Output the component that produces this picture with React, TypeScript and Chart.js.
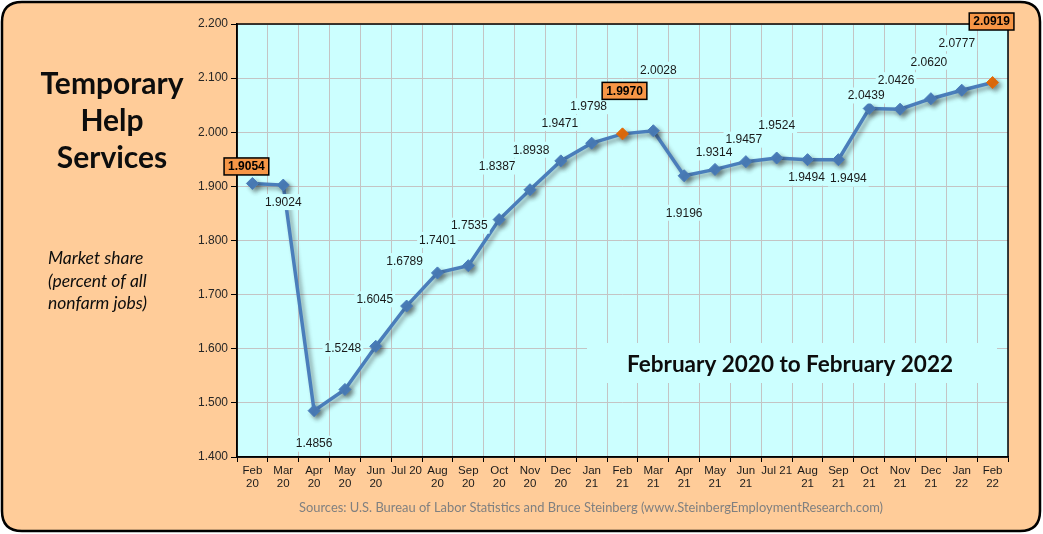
import { useEffect, useRef } from 'react';
import { Chart, registerables } from 'chart.js';

Chart.register(...registerables);

const categories: (string | string[])[] = [
  ['Feb', '20'], ['Mar', '20'], ['Apr', '20'], ['May', '20'], ['Jun', '20'], 'Jul 20',
  ['Aug', '20'], ['Sep', '20'], ['Oct', '20'], ['Nov', '20'], ['Dec', '20'], ['Jan', '21'],
  ['Feb', '21'], ['Mar', '21'], ['Apr', '21'], ['May', '21'], ['Jun', '21'], 'Jul 21',
  ['Aug', '21'], ['Sep', '21'], ['Oct', '21'], ['Nov', '21'], ['Dec', '21'], ['Jan', '22'],
  ['Feb', '22'],
];

const marketShare = [
  1.9054, 1.9024, 1.4856, 1.5248, 1.6045, 1.6789, 1.7401, 1.7535, 1.8387, 1.8938,
  1.9471, 1.9798, 1.9970, 2.0028, 1.9196, 1.9314, 1.9457, 1.9524, 1.9494, 1.9494,
  2.0439, 2.0426, 2.0620, 2.0777, 2.0919,
];

const boxedLabels = [0, 12, 24];
const orangePoints = [12, 24];

const yMin = 1.4;
const yMax = 2.2;
const yStep = 0.1;

const titleLines = ['Temporary', 'Help', 'Services'];
const noteLines = ['Market share', '(percent of all', 'nonfarm jobs)'];
const periodText = 'February 2020 to February 2022';
const sourceText =
  'Sources: U.S. Bureau of Labor Statistics and Bruce Steinberg (www.SteinbergEmploymentResearch.com)';

// label placement offsets (dx, dy) relative to each point
const labelOffsets: [number, number][] = [
  [-6, -17], [0, 17], [0, 33], [-2, -41], [-1, -47], [-2, -45], [0, -33], [1, -40],
  [-2, -53], [1, -40], [-1, -38], [-3, -37], [2, -43], [5, -61], [0, 37], [-1, -17],
  [-2, -22], [0, -33], [-1, 18], [10, 19], [-3, -13], [-4, -29], [-2, -37], [-5, -47],
  [-1, -61],
];

const W = 1043;
const H = 534;
const SANS = '"Liberation Sans", Arial, sans-serif';
const CAL = 'Lato, "Open Sans", sans-serif';
const LINE = '#4A7EBB';
const ORANGE = '#E46C0A';
const PLOT_BG = '#CCFFFF';
const GRID = '#C4C4C4';

function roundRect(ctx: CanvasRenderingContext2D, x: number, y: number, w: number, h: number, r: number) {
  ctx.beginPath();
  ctx.moveTo(x + r, y);
  ctx.lineTo(x + w - r, y);
  ctx.quadraticCurveTo(x + w, y, x + w, y + r);
  ctx.lineTo(x + w, y + h - r);
  ctx.quadraticCurveTo(x + w, y + h, x + w - r, y + h);
  ctx.lineTo(x + r, y + h);
  ctx.quadraticCurveTo(x, y + h, x, y + h - r);
  ctx.lineTo(x, y + r);
  ctx.quadraticCurveTo(x, y, x + r, y);
  ctx.closePath();
}

const decoPlugin = {
  id: 'deco',
  beforeDraw(chart: any) {
    const { ctx, chartArea: a } = chart;
    ctx.save();
    ctx.fillStyle = '#ffffff';
    ctx.fillRect(0, 0, W, H);
    roundRect(ctx, 2, 2, W - 5, H - 5, 20);
    ctx.fillStyle = '#FFCC99';
    ctx.fill();
    ctx.lineWidth = 2.5;
    ctx.strokeStyle = '#000';
    ctx.stroke();
    ctx.fillStyle = PLOT_BG;
    ctx.fillRect(a.left, a.top, a.right - a.left, a.bottom - a.top);

    ctx.fillStyle = '#0d0d0d';
    ctx.textAlign = 'center';
    ctx.textBaseline = 'alphabetic';
    ctx.font = `bold 30px ${CAL}`;
    titleLines.forEach((t, i) => ctx.fillText(t, 112, 94 + i * 37));

    ctx.textAlign = 'left';
    ctx.font = `italic 17.5px ${CAL}`;
    noteLines.forEach((t, i) => ctx.fillText(t, 48, 264 + i * 22.5));

    ctx.textAlign = 'center';
    ctx.font = `12.9px ${CAL}`;
    ctx.fillStyle = '#808080';
    ctx.fillText(sourceText, 591, 512);
    ctx.restore();
  },
  beforeDatasetsDraw(chart: any) {
    const { ctx, chartArea: a } = chart;
    ctx.save();
    ctx.strokeStyle = '#000';
    ctx.lineWidth = 1.5;
    ctx.strokeRect(a.left, a.top, a.right - a.left, a.bottom - a.top);
    // period caption box
    ctx.fillStyle = PLOT_BG;
    ctx.fillRect(587, 343, 410, 40);
    ctx.fillStyle = '#0d0d0d';
    ctx.font = `bold 22.5px ${CAL}`;
    ctx.textAlign = 'center';
    ctx.textBaseline = 'alphabetic';
    ctx.fillText(periodText, 790, 372);
    ctx.restore();
  },
  beforeDatasetDraw(chart: any) {
    const ctx = chart.ctx;
    ctx.save();
    ctx.shadowColor = 'rgba(40,40,40,0.45)';
    ctx.shadowBlur = 4;
    ctx.shadowOffsetX = 3;
    ctx.shadowOffsetY = 3;
  },
  afterDatasetDraw(chart: any) {
    chart.ctx.restore();
  },
  afterDatasetsDraw(chart: any) {
    const { ctx } = chart;
    const meta = chart.getDatasetMeta(0);
    ctx.save();
    ctx.textAlign = 'center';
    ctx.textBaseline = 'middle';
    meta.data.forEach((pt: any, i: number) => {
      const [dx, dy] = labelOffsets[i];
      const x = pt.x + dx;
      const y = pt.y + dy;
      const text = marketShare[i].toFixed(4);
      if (boxedLabels.includes(i)) {
        ctx.font = `bold 12px ${SANS}`;
        const w = ctx.measureText(text).width + 8;
        const h = 17;
        ctx.fillStyle = '#F79646';
        ctx.fillRect(x - w / 2, y - h / 2, w, h);
        ctx.lineWidth = 1.5;
        ctx.strokeStyle = '#000';
        ctx.strokeRect(x - w / 2, y - h / 2, w, h);
        ctx.fillStyle = '#000';
        ctx.fillText(text, x, y + 0.5);
      } else {
        ctx.font = `12px ${SANS}`;
        const w = ctx.measureText(text).width + 4;
        ctx.fillStyle = PLOT_BG;
        ctx.fillRect(x - w / 2, y - 8, w, 16);
        ctx.fillStyle = '#1a1a1a';
        ctx.fillText(text, x, y + 0.5);
      }
    });
    ctx.restore();
  },
};

export default function App() {
  const ref = useRef<HTMLCanvasElement | null>(null);

  useEffect(() => {
    if (!ref.current) return;
    const pointColors = marketShare.map((_, i) => (orangePoints.includes(i) ? ORANGE : LINE));
    const chart = new Chart(ref.current, {
      type: 'line',
      data: {
        labels: categories as any,
        datasets: [
          {
            data: marketShare,
            borderColor: LINE,
            borderWidth: 3.5,
            pointStyle: 'rectRot',
            pointRadius: 6,
            pointBackgroundColor: pointColors,
            pointBorderColor: pointColors,
            pointBorderWidth: 1,
            tension: 0,
          },
        ],
      },
      options: {
        responsive: false,
        animation: false,
        devicePixelRatio: 1,
        layout: { padding: { left: 0, top: 24, right: 35, bottom: 0 } },
        plugins: { legend: { display: false }, tooltip: { enabled: false } },
        scales: {
          x: {
            type: 'category',
            offset: true,
            grid: {
              offset: true,
              color: GRID,
              lineWidth: 1,
              tickColor: '#000',
              tickLength: 5,
              drawTicks: true,
            },
            border: { color: '#000', width: 1.5 },
            ticks: {
              autoSkip: false,
              maxRotation: 0,
              minRotation: 0,
              padding: 3,
              color: '#1a1a1a',
              font: { family: SANS, size: 11.5, lineHeight: 1.08 },
            },
            afterFit: (s: any) => {
              s.height = 77;
            },
          },
          y: {
            min: yMin,
            max: yMax,
            grid: {
              color: GRID,
              lineWidth: 1,
              tickColor: '#000',
              tickLength: 6,
            },
            border: { color: '#000', width: 1.5 },
            ticks: {
              stepSize: yStep,
              padding: 3,
              color: '#262626',
              font: { family: SANS, size: 12 },
              callback: (v: any) => Number(v).toFixed(3),
            },
            afterFit: (s: any) => {
              s.width = 237;
            },
          },
        },
      },
      plugins: [decoPlugin],
    });
    return () => chart.destroy();
  }, []);

  return (
    <div style={{ position: 'absolute', left: 0, top: 0, width: W, height: H }}>
      <canvas ref={ref} width={W} height={H} style={{ width: W, height: H, display: 'block' }} />
    </div>
  );
}
